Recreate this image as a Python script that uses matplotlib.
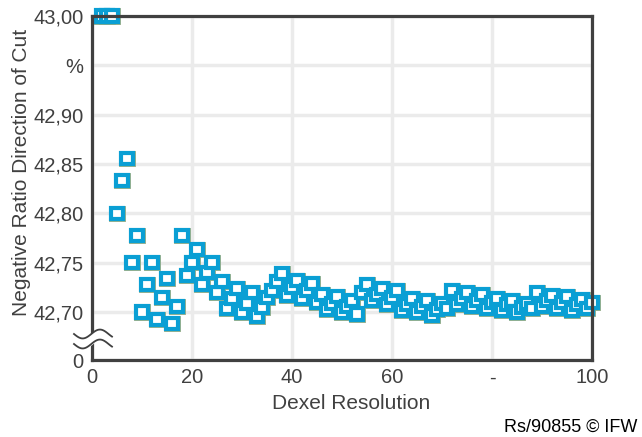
import numpy as np
import matplotlib
matplotlib.use("Agg")
import matplotlib.pyplot as plt
import matplotlib.patheffects as pe
import matplotlib.transforms as mtransforms

plt.rcParams['font.family'] = ['Liberation Sans', 'DejaVu Sans']

# data
resolution = list(range(2, 101))
ratio = [
    43.000, 43.000, 43.000,                      # 2-4
    42.800, 42.833, 42.856,                      # 5-7
    42.750, 42.778,                              # 8-9
    42.700, 42.728, 42.750,                      # 10-12
    42.692, 42.715, 42.734,                      # 13-15
    42.688, 42.706, 42.778,                      # 16-18
    42.737, 42.750, 42.763,                      # 19-21
    42.728, 42.740, 42.750,                      # 22-24
    42.720, 42.731,                              # 25-26
    42.704, 42.714, 42.724,                      # 27-29
    42.700, 42.709, 42.720,                      # 30-32
    42.696, 42.705, 42.715, 42.722, 42.731, 42.739,  # 33-38
    42.717, 42.725, 42.732,                      # 39-41
    42.714, 42.722, 42.729,                      # 42-44
    42.710, 42.718,                              # 45-46
    42.703, 42.709, 42.716,                      # 47-49
    42.700, 42.706, 42.712,                      # 50-52
    42.698, 42.720, 42.728,                      # 53-55
    42.712, 42.718, 42.724,                      # 56-58
    42.708, 42.715, 42.722,                      # 59-61
    42.702, 42.708, 42.714,                      # 62-64
    42.700, 42.706, 42.712,                      # 65-67
    42.697, 42.703, 42.709,                      # 68-70
    42.704, 42.722,                              # 71-72
    42.708, 42.714, 42.720,                      # 73-75
    42.706, 42.712, 42.718,                      # 76-78
    42.704, 42.710, 42.714,                      # 79-81
    42.702, 42.708, 42.712,                      # 82-84
    42.700, 42.705, 42.709,                      # 85-87
    42.704, 42.720,                              # 88-89
    42.706, 42.712, 42.717,                      # 90-92
    42.704, 42.710, 42.716,                      # 93-95
    42.702, 42.708, 42.713,                      # 96-98
    42.704, 42.710,                              # 99-100
]

x_ticks = [0, 20, 40, 60, 80, 100]
x_labels = ['0', '20', '40', '60', '-', '100']
y_zero = 42.6514  # position of the "0" label below the axis break
y_ticks = [y_zero, 42.70, 42.75, 42.80, 42.85, 42.90, 42.95, 43.00]
y_labels = ['0', '42,70', '42,75', '42,80', '42,85', '42,90', '%', '43,00']

dark = '#404040'
blue = '#0a9fd4'

fig = plt.figure(figsize=(6.42, 4.37), dpi=100)
ax = fig.add_axes([92/642, 1 - 360/437, 500/642, 344/437])

ax.plot(resolution, ratio, linestyle='none', marker='s', markersize=8.0,
        markerfacecolor='white', markeredgecolor=blue, markeredgewidth=3.0,
        clip_on=False, zorder=5,
        path_effects=[pe.Stroke(linewidth=3.5, foreground='#94ad86'), pe.Normal()])

ax.set_xlim(0, 100)
ax.set_ylim(y_zero, 43.0)
ax.set_xticks(x_ticks)
ax.set_xticklabels(x_labels)
ax.set_yticks(y_ticks)
ax.set_yticklabels(y_labels)
ax.tick_params(length=0, labelsize=14.5, labelcolor=dark, pad=6)

ax.grid(True, color='#ebebeb', linewidth=2.5)
ax.set_axisbelow(True)
for s in ax.spines.values():
    s.set_color(dark)
    s.set_linewidth(2.3)
    s.set_zorder(6)

ax.set_xlabel('Dexel Resolution', fontsize=15, color=dark)
ax.xaxis.set_label_coords(0.518, -0.1)
ax.set_ylabel('Negative Ratio Direction of Cut', fontsize=15, color=dark)
ax.yaxis.set_label_coords(-0.122, 0.544)

# axis break symbol on the y axis
trans = mtransforms.blended_transform_factory(ax.transAxes, ax.transData)
bx = np.linspace(-18/500, 20/500, 60)
wave = 0.0045 * np.sin((bx - bx[0]) / (bx[-1] - bx[0]) * 2 * np.pi * 1.1 + np.pi)
y_up = 42.6514 + 26/986.7 + wave
y_lo = 42.6514 + 16/986.7 + wave
ax.fill_between(bx, y_lo, y_up, color='white', transform=trans, clip_on=False, zorder=7)
ax.plot(bx, y_up, color=dark, lw=1.3, transform=trans, clip_on=False, zorder=8)
ax.plot(bx, y_lo, color=dark, lw=1.3, transform=trans, clip_on=False, zorder=8)

fig.text(637/642, 1 - 432/437, 'Rs/90855 \u00a9 IFW', ha='right', va='baseline',
         fontsize=13, color='black')

fig.savefig('out.png', dpi=100)
